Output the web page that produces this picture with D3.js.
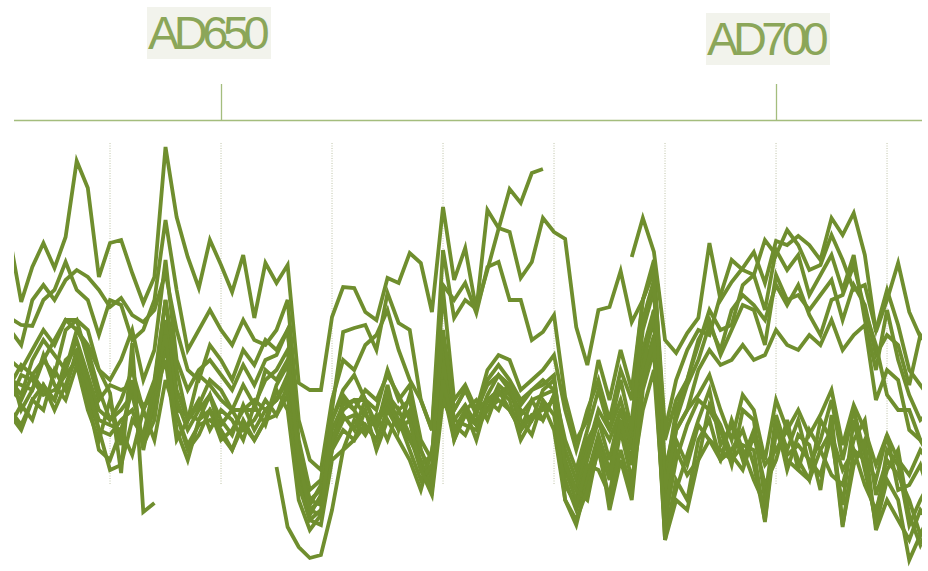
<!DOCTYPE html>
<html>
<head>
<meta charset="utf-8">
<script src="https://cdn.jsdelivr.net/npm/d3@7"></script>
<style>
	body { margin: 0; background: #fff; }
	svg { display: block; }
</style>
</head>
<body>
<script>
// ring-width style index, one value per year

let s01 = [320, 258, 293, 317, 292, 323, 399, 372, 283, 317,
	320, 287, 257, 283, 413, 343, 303, 272, 320, 295,
	268, 305, 242, 297, 277, 295, 177, 170, 170, 243,
	273, 272, 248, 240, 282, 277, 307, 297, 248, 353,
	280, 312, 250, 350, 332, 328, 282, 298, 342, 328,
	321, 233, 195, 250, 253, 289, 238, 260, 290, 120,
	160, 180, 220, 240, 205, 230, 255, 250, 215, 285,
	260, 265, 250, 265, 280, 240, 275, 255, 205, 225,
	215, 175, 225, 210];
let s02 = [242, 235, 234, 260, 270, 298, 270, 260, 225, 260,
	255, 220, 230, 260, 340, 270, 210, 230, 250, 230,
	215, 240, 220, 215, 230, 260, 140, 100, 90, 160,
	200, 190, 215, 225, 250, 210, 180, 160, 130, 310,
	242, 260, 251, 290, 331, 371, 357, 387, 391];
let s03 = [230, 215, 260, 275, 260, 280, 290, 283, 270, 253,
	262, 245, 238, 250, 287, 230, 190, 180, 215, 200,
	180, 210, 195, 220, 210, 230, 120, 70, 80, 150,
	228, 232, 235, 210, 267, 237, 230, 160, 130, 275,
	260, 277, 247, 293, 298, 260, 260, 220, 228, 245,
	163, 120, 140, 200, 160, 210, 170, 260, 300, 90,
	140, 175, 200, 235, 210, 250, 265, 255, 240, 275,
	255, 275, 245, 225, 260, 265, 295, 250, 215, 165,
	150, 150, 120, 105];
let s04 = [200, 190, 210, 230, 215, 240, 240, 230, 190, 180,
	200, 230, 180, 210, 300, 200, 170, 190, 200, 185,
	170, 195, 175, 200, 205, 230, 110, 60, 70, 140,
	170, 185, 160, 150, 190, 160, 175, 120, 100, 270,
	160, 175, 150, 190, 205, 200, 170, 180, 190, 205,
	150, 110, 150, 180, 140, 190, 160, 260, 290, 130,
	180, 210, 230, 225, 265, 300, 290, 285, 320, 305,
	330, 315, 290, 295, 325, 300, 270, 275, 230, 270,
	235, 190, 175, 160];
let s05 = [180, 175, 170, 200, 185, 230, 240, 200, 160, 175,
	170, 175, 150, 180, 260, 170, 140, 185, 175, 160,
	150, 150, 150, 190, 180, 200, 90, 50, 60, 120,
	150, 160, 160, 130, 175, 130, 165, 110, 85, 220,
	140, 135, 130, 150, 175, 165, 150, 140, 170, 180,
	110, 80, 120, 140, 120, 150, 140, 230, 270, 80,
	150, 180, 215, 250, 230, 235, 275, 285, 250, 310,
	290, 305, 265, 285, 305, 270, 305, 240, 190, 250,
	200, 165, 140, 150];
let s06 = [160, 185, 180, 165, 170, 185, 200, 175, 140, 135,
	130, 170, 155, 160, 230, 150, 145, 140, 150, 120,
	130, 150, 160, 150, 160, 180, 80, 40, 50, 110,
	160, 150, 130, 140, 160, 140, 120, 100, 70, 200,
	120, 145, 140, 150, 165, 175, 130, 145, 140, 165,
	100, 70, 110, 150, 130, 160, 120, 210, 250, 60,
	130, 150, 190, 210, 195, 200, 215, 200, 205, 230,
	215, 210, 225, 215, 240, 210, 225, 235, 160, 190,
	180, 130, 120, 100];
let s07 = [170, 160, 185, 170, 160, 190, 220, 185, 150, 140,
	150, 165, 120, 150, 240, 160, 130, 150, 165, 140,
	125, 155, 130, 150, 160, 185, 90, 55, 75, 130,
	155, 160, 145, 135, 165, 150, 160, 110, 80, 210,
	150, 170, 145, 180, 195, 180, 160, 170, 175, 185,
	90, 60, 100, 140, 100, 150, 110, 200, 240, 40,
	100, 135, 160, 150, 130, 95, 150, 140, 60, 145,
	110, 140, 95, 120, 160, 100, 150, 105, 80, 125,
	70, 75, 95, 60];
let s08 = [150, 135, 160, 175, 150, 175, 205, 165, 130, 125,
	140, 150, 115, 140, 215, 145, 115, 135, 140, 130,
	110, 140, 120, 140, 145, 165, 75, 45, 65, 115,
	140, 145, 135, 120, 150, 135, 150, 95, 75, 190,
	140, 155, 135, 165, 185, 170, 145, 160, 165, 170,
	80, 50, 85, 125, 90, 135, 100, 185, 225, 30,
	70, 105, 140, 170, 115, 135, 100, 130, 95, 110,
	130, 100, 80, 140, 120, 55, 140, 90, 40, 110,
	95, 35, 60, 80];
let s09 = [190, 150, 170, 205, 175, 160, 195, 150, 120, 160,
	115, 180, 110, 165, 200, 120, 140, 160, 130, 150,
	140, 120, 155, 135, 170, 150, 60, 30, 45, 110,
	130, 120, 150, 110, 140, 120, 100, 70, 110, 170,
	120, 150, 160, 140, 170, 160, 120, 140, 155, 130,
	60, 35, 80, 120, 50, 100, 60, 170, 210, 20,
	80, 60, 120, 140, 100, 110, 130, 95, 40, 140,
	90, 125, 115, 70, 145, 35, 95, 120, 30, 60,
	40, 20, 50, 35];
let s10 = [145, 130, 160, 150, 190, 170, 210, 160, 110, 100,
	130, 105, 150, 120, 180, 145, 110, 125, 150, 135,
	150, 130, 140, 160, 145, 175, 75, 40, 35, 100,
	110, 140, 125, 145, 120, 150, 125, 90, 65, 160,
	135, 125, 150, 160, 150, 175, 140, 125, 160, 145,
	75, 55, 95, 90, 65, 130, 80, 150, 190, 35,
	110, 85, 100, 155, 135, 105, 90, 125, 75, 100,
	140, 90, 130, 110, 85, 75, 120, 140, 65, 100,
	85, 60, 25, 50];
let s11 = [135, 155, 140, 175, 160, 200, 210, 175, 130, 90,
	95, 140, 125, 175, 225, 130, 100, 140, 165, 125,
	110, 135, 120, 140, 175, 195, 95, 60, 55, 120,
	145, 130, 160, 135, 155, 140, 110, 80, 95, 200,
	125, 145, 135, 150, 160, 150, 130, 160, 140, 165,
	95, 70, 60, 115, 80, 140, 95, 190, 250, 45,
	120, 95, 135, 120, 100, 140, 110, 80, 55, 130,
	105, 115, 100, 85, 125, 90, 110, 75, 50, 90,
	110, 45, 15, 40];
let s12 = [175, 195, 185, 200, 220, 240, 230, 210, 170, 140,
	160, 190, 150, 175, 260, 190, 140, 155, 180, 170,
	150, 175, 155, 180, 190, 210, 100, 50, 45, 140,
	165, 150, 170, 160, 185, 165, 140, 95, 105, 230,
	150, 170, 150, 175, 185, 175, 155, 170, 180, 170,
	120, 90, 130, 170, 130, 180, 130, 240, 280, 70,
	130, 150, 165, 185, 150, 120, 165, 150, 100, 160,
	130, 150, 125, 145, 170, 115, 155, 130, 95, 125,
	100, 85, 110, 95];
// shorter records
let s13 = [180, 165, 200, 220, 205, 190, 230, 215, 190, 167, 87, 217, 48, 57];
let s14 = [93, 33, 13, 2, 5, 50,
	110, 120, 135, 120, 150, 130, 140, 90, 70, 180,
	130, 150, 120, 160, 170, 150, 130, 145, 150, 160,
	60, 40, 70, 110, 60, 110, 70, 180, 220, 20,
	60, 50, 100, 120, 110, 100, 115, 110, 38, 130,
	100, 90, 80, 110, 130, 33, 110, 100, 35, 80,
	60, 0, 25, 30];
let s15 = [303, 342, 308, 220, 207, 227, 242, 317, 260, 278, 292, 308, 277, 319,
	315, 324, 315, 300, 342, 325, 347, 305, 228, 260, 297, 248, 223, 215];

let seriesList = [s01, s02, s03, s04, s05, s06, s07, s08, s09, s10, s11, s12, s13, s14, s15];
let seriesStart = [631, 631, 631, 631, 631, 631, 631, 631, 631, 631, 631, 631, 631, 655, 687];

let gridYears = [640, 650, 660, 670, 680, 690, 700, 710];
let labelYears = [650, 700];
let labelText = ["AD650", "AD700"];

function init() {
	let width = 928;
	let height = 571;
	let left = 14, right = 922;
	let lineColor = "#6f8e2e";

	let x = d3.scaleLinear()
		.domain([631.35, 713.15])
		.range([left, right]);

	let y = d3.scaleLinear()
		.domain([0, 420])
		.range([560, 140]);

	let svg = d3.select("body").append("svg")
		.attr("width", width)
		.attr("height", height);

	svg.append("clipPath")
		.attr("id", "plot-clip")
		.append("rect")
		.attr("x", left)
		.attr("y", 0)
		.attr("width", right - left)
		.attr("height", height);

	// dotted decade lines
	svg.append("g")
		.attr("class", "grid")
		.selectAll("line")
		.data(gridYears)
		.enter().append("line")
		.attr("x1", d => x(d))
		.attr("x2", d => x(d))
		.attr("y1", 143)
		.attr("y2", 484)
		.attr("stroke", "#bfc4a8")
		.attr("stroke-width", 1)
		.attr("stroke-dasharray", "1,1.5");

	// timeline bar
	svg.append("line")
		.attr("x1", left)
		.attr("x2", right)
		.attr("y1", 120.5)
		.attr("y2", 120.5)
		.attr("stroke", "#a4bd7d")
		.attr("stroke-width", 1.3);

	svg.append("g")
		.selectAll("line")
		.data(labelYears)
		.enter().append("line")
		.attr("x1", d => Math.round(x(d)) + 0.5)
		.attr("x2", d => Math.round(x(d)) + 0.5)
		.attr("y1", 84)
		.attr("y2", 120)
		.attr("stroke", "#a4bd7d")
		.attr("stroke-width", 1.3);

	// labels with a pale box behind
	let nudge = [{dx: -74, top: 7}, {dx: -70, top: 13}];
	let labels = svg.append("g").selectAll("g")
		.data(labelYears)
		.enter().append("g");

	labels.each(function(d, i) {
		let g = d3.select(this);
		g.append("rect")
			.attr("x", x(d) + nudge[i].dx)
			.attr("y", nudge[i].top)
			.attr("width", 124)
			.attr("height", 52)
			.attr("fill", "#f2f3ec");
		g.append("text")
			.attr("x", x(d) + nudge[i].dx + 1)
			.attr("y", nudge[i].top + 42)
			.attr("font-family", "'Liberation Sans', Arial, sans-serif")
			.attr("font-size", 47)
			.attr("letter-spacing", -5.5)
			.attr("fill", "#8ba659")
			.text(labelText[i]);
	});

	let line = d3.line()
		.x(d => x(d.year))
		.y(d => y(d.v));

	let series = seriesList.map((vals, i) =>
		vals.map((v, j) => ({year: seriesStart[i] + j, v: v}))
	);

	svg.append("g")
		.attr("clip-path", "url(#plot-clip)")
		.selectAll("path")
		.data(series)
		.enter().append("path")
		.attr("d", line)
		.attr("fill", "none")
		.attr("stroke", lineColor)
		.attr("stroke-width", 3.8)
		.attr("stroke-linejoin", "miter");
}

window.onload = () => {
	init();
}
</script>
</body>
</html>
